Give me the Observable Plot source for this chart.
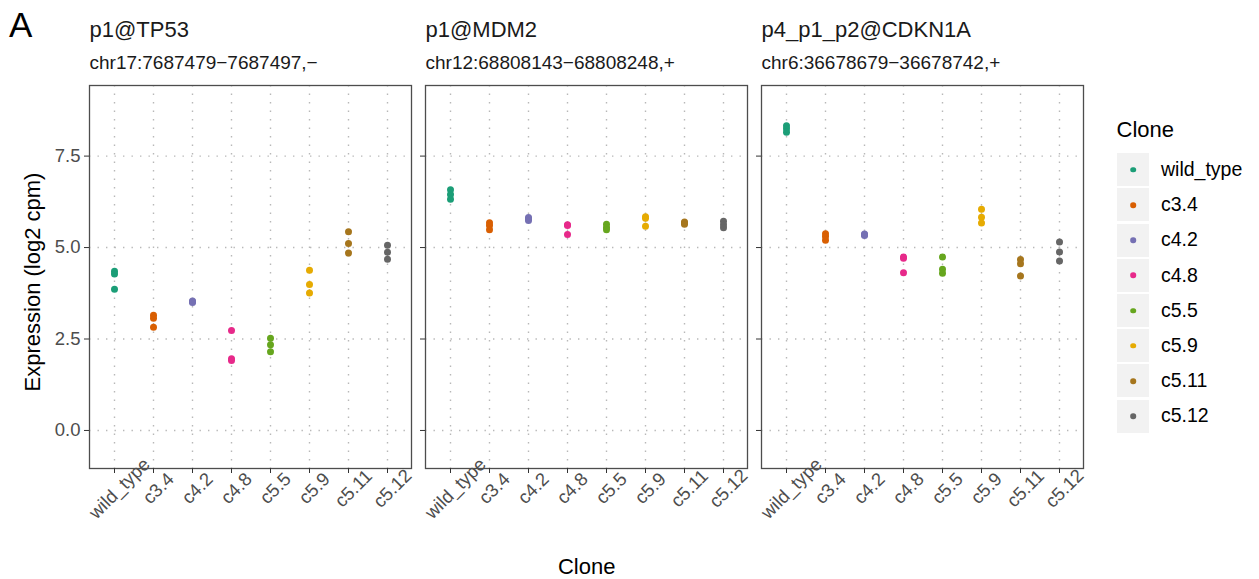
<!DOCTYPE html>
<html>
<head>
<meta charset="utf-8">
<script src="https://cdn.jsdelivr.net/npm/d3@7"></script>
<script src="https://cdn.jsdelivr.net/npm/@observablehq/plot@0.6"></script>
<style>
  html, body { margin: 0; padding: 0; background: #fff; }
  body { font-family: "Liberation Sans", Arial, sans-serif; color: #000; }
  #wrap { position: relative; width: 1259px; height: 579px; overflow: hidden; }
  #chart svg { display: block; }
  .abs { position: absolute; white-space: nowrap; line-height: 1; }
  #tag { left: 9px; top: 7px; font-size: 35px; }
  #ytitle { left: 32.5px; top: 282px; font-size: 22px; transform: translate(-50%, -50%) rotate(-90deg); }
  #xtitle { left: 586.7px; top: 566.5px; font-size: 22px; transform: translate(-50%, -50%); }
  #legend { left: 1117px; top: 119.4px; }
  #legend .ttl { font-size: 22px; line-height: 1; height: 22px; margin-bottom: 10.8px; margin-left: -0.5px; }
  #legend .row { display: flex; align-items: center; height: 35.2px; }
  #legend .key { width: 32px; height: 33px; background: #f2f2f2; position: relative; }
  #legend .key span { position: absolute; left: 50%; top: 50%; width: 5.6px; height: 5.6px; border-radius: 50%; transform: translate(-50%, -50%); }
  #legend .lab { font-size: 19.5px; margin-left: 12px; line-height: 1; }
</style>
</head>
<body>
<div id="wrap">
  <div id="chart"></div>
  <div id="tag" class="abs">A</div>
  <div id="ytitle" class="abs">Expression (log2 cpm)</div>
  <div id="xtitle" class="abs">Clone</div>
  <div id="legend" class="abs"></div>
</div>
<script>
// ---- data ----
const genes = ["p1@TP53", "p1@MDM2", "p4_p1_p2@CDKN1A"];
const coords = ["chr17:7687479\u22127687497,\u2212", "chr12:68808143\u221268808248,+", "chr6:36678679\u221236678742,+"];
const clones = ["wild_type", "c3.4", "c4.2", "c4.8", "c5.5", "c5.9", "c5.11", "c5.12"];
const cloneColors = ["#1B9E77", "#D95F02", "#7570B3", "#E7298A", "#66A61E", "#E6AB02", "#A6761D", "#666666"];
const yTicks = [0, 2.5, 5, 7.5];
const yDomain = [-1.04, 9.43];

// replicate values per clone (same order as clones)
const tp53Values = [
  [4.35, 4.28, 3.86], [3.15, 3.07, 2.82], [3.54, 3.52, 3.50], [2.73, 1.96, 1.91],
  [2.52, 2.34, 2.15], [4.38, 3.99, 3.76], [5.43, 5.11, 4.85], [5.06, 4.87, 4.68]
];
const mdm2Values = [
  [6.58, 6.45, 6.32], [5.68, 5.60, 5.49], [5.82, 5.78, 5.74], [5.62, 5.60, 5.36],
  [5.64, 5.55, 5.49], [5.84, 5.80, 5.58], [5.70, 5.67, 5.64], [5.72, 5.62, 5.54]
];
const cdkn1aValues = [
  [8.33, 8.25, 8.15], [5.38, 5.30, 5.20], [5.37, 5.35, 5.33], [4.74, 4.71, 4.31],
  [4.74, 4.41, 4.30], [6.05, 5.83, 5.67], [4.67, 4.56, 4.22], [5.15, 4.88, 4.63]
];

// ---- build tables ----
const geneValues = [tp53Values, mdm2Values, cdkn1aValues];
const rows = [];
genes.forEach((g, gi) => {
  geneValues[gi].forEach((vals, ci) => {
    vals.forEach(v => rows.push({gene: g, clone: clones[ci], value: v}));
  });
});
const panels = genes.map((g, i) => ({gene: g, coord: coords[i]}));

const gridStyle = {stroke: "#b8b8b8", strokeOpacity: 1, strokeWidth: 1.4, strokeDasharray: "1.4,7.1"};

const chart = Plot.plot({
  width: 1259,
  height: 579,
  marginTop: 85,
  marginBottom: 111,
  marginLeft: 89,
  marginRight: 176,
  style: {fontFamily: "Liberation Sans, Arial, sans-serif", fontSize: "18px", color: "#000", background: "#fff"},
  fx: {domain: genes, paddingInner: 0.042, paddingOuter: 0, axis: null, label: null},
  x: {type: "point", domain: clones, padding: 0.6, label: null, axis: null},
  y: {domain: yDomain, label: null, axis: null},
  color: {domain: clones, range: cloneColors},
  marks: [
    Plot.gridX(clones, {...gridStyle}),
    Plot.gridY(yTicks, {...gridStyle}),
    Plot.frame({stroke: "#4d4d4d", strokeWidth: 1.3}),
    Plot.axisX(clones, {tickSize: 5, tickFormat: () => "", stroke: "#333", label: null, facetAnchor: null}),
    Plot.axisY(yTicks, {tickSize: 5, tickFormat: () => "", stroke: "#333", label: null, facetAnchor: null}),
    Plot.axisY(yTicks, {tickSize: 0, tickPadding: 9, tickFormat: d3.format(".1f"), fill: "#4d4d4d", fontSize: 18.5, label: null}),
    Plot.text(clones, {x: d => d, frameAnchor: "bottom", dy: 20, dx: 5, rotate: -45, textAnchor: "middle", lineAnchor: "middle", fontSize: 18.5, fill: "#4d4d4d"}),
    Plot.text(panels, {fx: "gene", text: "gene", frameAnchor: "top-left", textAnchor: "start", lineAnchor: "top", dy: -64, fontSize: 22, fill: "#1a1a1a"}),
    Plot.text(panels, {fx: "gene", text: "coord", frameAnchor: "top-left", textAnchor: "start", lineAnchor: "top", dy: -30.5, fontSize: 19, fill: "#1a1a1a"}),
    Plot.dot(rows, {fx: "gene", x: "clone", y: "value", fill: "clone", r: 3.5, stroke: null})
  ]
});
document.getElementById("chart").appendChild(chart);

// ---- legend ----
const legend = document.getElementById("legend");
const ttl = document.createElement("div");
ttl.className = "ttl";
ttl.textContent = "Clone";
legend.appendChild(ttl);
clones.forEach((c, i) => {
  const row = document.createElement("div");
  row.className = "row";
  const key = document.createElement("div");
  key.className = "key";
  const dot = document.createElement("span");
  dot.style.background = cloneColors[i];
  key.appendChild(dot);
  const lab = document.createElement("div");
  lab.className = "lab";
  lab.textContent = c;
  row.appendChild(key);
  row.appendChild(lab);
  legend.appendChild(row);
});
</script>
</body>
</html>
